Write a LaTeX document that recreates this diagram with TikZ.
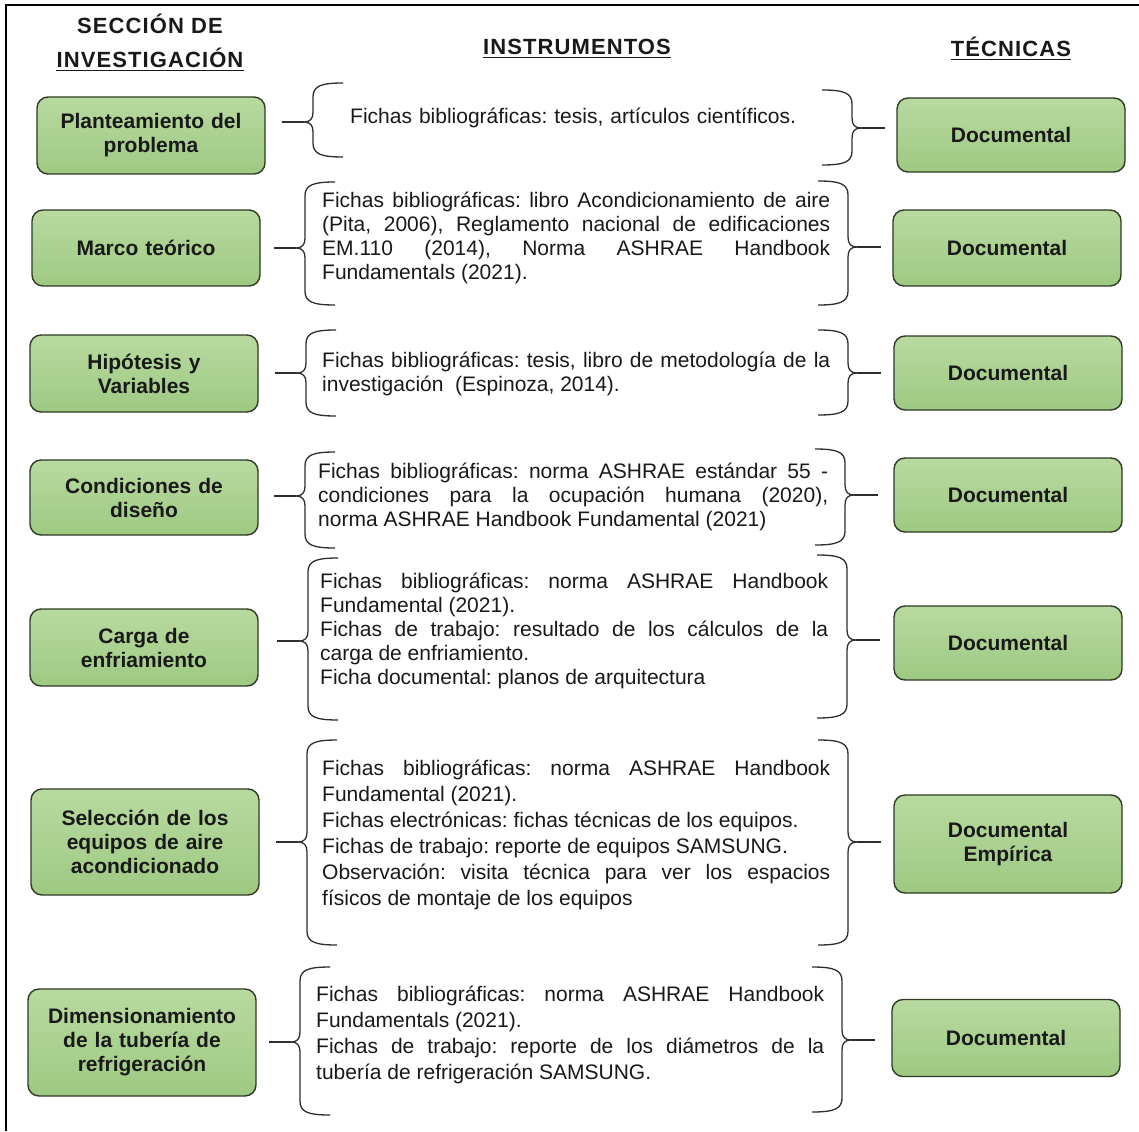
\documentclass[tikz,border=0pt]{standalone}
\usepackage{fontspec}
\setmainfont{Liberation Sans}
\frenchspacing
\definecolor{boxtop}{RGB}{184,218,160}
\definecolor{boxbot}{RGB}{158,201,130}
\definecolor{boxline}{RGB}{45,58,36}
\definecolor{txt}{RGB}{25,25,25}
\definecolor{brc}{RGB}{45,45,45}
\newcommand\Lbrc[5]{%
  \draw[brace] ({#1+30},#2) .. controls ({#1+8},#2) and (#1,{#2+3}) .. (#1,{#2+14})
    -- (#1,{#4-10}) .. controls (#1,{#4-3}) and ({#1-3},#4) .. ({#1-9},#4) coordinate (#5)
    .. controls ({#1-3},#4) and (#1,{#4+3}) .. (#1,{#4+10})
    -- (#1,{#3-14}) .. controls (#1,{#3-3}) and ({#1+8},#3) .. ({#1+30},#3);
  \coordinate (#5s) at ({#1-31},#4);
  \draw[brace] (#5s) -- (#5);}
\newcommand\Rbrc[5]{%
  \draw[brace] ({#1-30},#2) .. controls ({#1-8},#2) and (#1,{#2+3}) .. (#1,{#2+14})
    -- (#1,{#4-10}) .. controls (#1,{#4-3}) and ({#1+3},#4) .. ({#1+9},#4) coordinate (#5)
    .. controls ({#1+3},#4) and (#1,{#4+3}) .. (#1,{#4+10})
    -- (#1,{#3-14}) .. controls (#1,{#3-3}) and ({#1-8},#3) .. ({#1-30},#3);
  \coordinate (#5e) at ({#1+33},#4);
  \draw[brace] (#5) -- (#5e);}
\begin{document}
\begin{tikzpicture}[x=1pt,y=-1pt,
  lbox/.style={rounded corners=11pt, draw=boxline, line width=1.4pt,
    top color=boxtop, bottom color=boxbot, text=txt, align=center,
    font=\bfseries\fontsize{21}{24}\selectfont, minimum width=228pt,
    text width=220pt, inner sep=0pt},
  blk/.style={anchor=west, inner sep=0pt, text=txt, align=justify,
    font=\fontsize{21}{24}\selectfont\frenchspacing, text width=508pt},
  hdr/.style={inner sep=0pt, text=txt, align=center,
    font=\bfseries\fontsize{22}{34}\selectfont\addfontfeature{LetterSpace=5}},
  brace/.style={draw=brc, line width=1.3pt},
  uline/.style={draw=txt, line width=1.6pt}]
\useasboundingbox (0,0) rectangle (1139,1131);
\fill[white] (0,0) rectangle (1139,1131);
\draw[line width=2pt] (6,1131) -- (6,5) -- (1139,5);

% headers
\node[hdr] (h1a) at (150,24) {SECCIÓN DE};
\node[hdr] (h1b) at (150,58) {INVESTIGACIÓN};
\node[hdr] (h2) at (577,47) {INSTRUMENTOS};
\node[hdr] (h3) at (1011,47) {TÉCNICAS};
\draw[uline] ([yshift=-3pt]h1b.base west) -- ([yshift=-3pt]h1b.base east);
\draw[uline] ([yshift=-3pt]h2.base west) -- ([yshift=-3pt]h2.base east);
\draw[uline] ([yshift=-3pt]h3.base west) -- ([yshift=-3pt]h3.base east);

% left boxes
\node[lbox, minimum height=77pt] (s1) at (151,135.5) {Planteamiento del\\problema};
\node[lbox, minimum height=76pt] (s2) at (146,248) {Marco teórico};
\node[lbox, minimum height=77pt] (s3) at (144,373.5) {Hipótesis y\\Variables};
\node[lbox, minimum height=75pt] (s4) at (144,497.5) {Condiciones de\\diseño};
\node[lbox, minimum height=77pt] (s5) at (144,647.5) {Carga de\\enfriamiento};
\node[lbox, minimum height=106pt] (s6) at (145,842) {Selección de los\\equipos de aire\\acondicionado};
\node[lbox, minimum height=107pt] (s7) at (142,1042.5) {Dimensionamiento\\de la tubería de\\refrigeración};

% right boxes
\node[lbox, minimum height=74pt] (t1) at (1011,135) {Documental};
\node[lbox, minimum height=76pt] (t2) at (1007,248) {Documental};
\node[lbox, minimum height=74pt] (t3) at (1008,373) {Documental};
\node[lbox, minimum height=74pt] (t4) at (1008,495) {Documental};
\node[lbox, minimum height=74pt] (t5) at (1008,643) {Documental};
\node[lbox, minimum height=98pt] (t6) at (1008,844) {Documental\\Empírica};
\node[lbox, minimum height=77pt] (t7) at (1006,1038) {Documental};

% braces
\Lbrc{313}{83}{157}{122}{la}
\Rbrc{852}{90}{165}{128}{ra}
\Lbrc{305}{182}{305}{248}{lb}
\Rbrc{848}{181}{305}{247}{rb}
\Lbrc{306}{330}{416}{373}{lc}
\Rbrc{848}{330}{415}{373}{rc}
\Lbrc{305}{452}{548}{496}{ld}
\Rbrc{845}{449}{545}{495}{rd}
\Lbrc{308}{558}{720}{641}{le}
\Rbrc{847}{555}{718}{640}{re}
\Lbrc{307}{740}{945}{842}{lf}
\Rbrc{848}{740}{945}{842}{rf}
\Lbrc{300}{967}{1115}{1042}{lg}
\Rbrc{842}{967}{1112}{1040}{rg}

% instrument texts
\node[blk, align=left, text width=460pt] (i1) at (350,118) {Fichas bibliográficas: tesis, artículos científicos.};
\node[blk] (i2) at (322,238) {Fichas bibliográficas: libro Acondicionamiento de aire\linebreak
(Pita, 2006), Reglamento nacional de edificaciones\linebreak
EM.110 (2014), Norma ASHRAE Handbook\linebreak
Fundamentals (2021).};
\node[blk] (i3) at (322,374) {Fichas bibliográficas: tesis, libro de metodología de la\linebreak
investigación\ \ (Espinoza, 2014).};
\node[blk, text width=510pt] (i4) at (318,497) {Fichas bibliográficas: norma ASHRAE estándar 55 -\linebreak
condiciones para la ocupación humana (2020),\linebreak
norma ASHRAE Handbook Fundamental (2021)};
\node[blk] (i5) at (320,631) {Fichas bibliográficas: norma ASHRAE Handbook\linebreak
Fundamental (2021).\\
Fichas de trabajo: resultado de los cálculos de la\linebreak
carga de enfriamiento.\\
Ficha documental: planos de arquitectura};
\node[blk, font=\fontsize{21}{26}\selectfont\frenchspacing] (i6) at (322,835) {Fichas bibliográficas: norma ASHRAE Handbook\linebreak
Fundamental (2021).\\
Fichas electrónicas: fichas técnicas de los equipos.\\
Fichas de trabajo: reporte de equipos SAMSUNG.\\
Observación: visita técnica para ver los espacios\linebreak
físicos de montaje de los equipos};
\node[blk, font=\fontsize{21}{26}\selectfont\frenchspacing] (i7) at (316,1035) {Fichas bibliográficas: norma ASHRAE Handbook\linebreak
Fundamentals (2021).\\
Fichas de trabajo: reporte de los diámetros de la\linebreak
tubería de refrigeración SAMSUNG.};
\end{tikzpicture}
\end{document}
